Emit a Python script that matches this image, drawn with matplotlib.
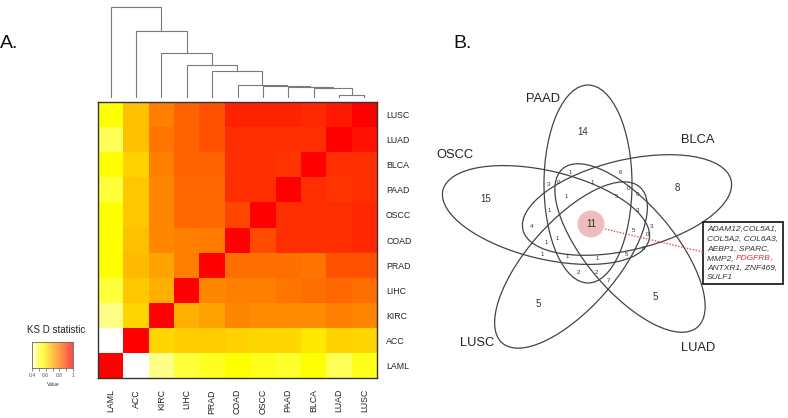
import numpy as np
import matplotlib
matplotlib.use("Agg")
import matplotlib.pyplot as plt
from matplotlib.colors import LinearSegmentedColormap
from matplotlib.patches import Ellipse, Circle, Rectangle

plt.rcParams['font.family'] = ['Liberation Sans', 'DejaVu Sans']

# ---------------- data ----------------
cancers = ["LAML", "ACC", "KIRC", "LIHC", "PRAD", "COAD", "OSCC", "PAAD", "BLCA", "LUAD", "LUSC"]

# KS D statistic, rows bottom->top, columns left->right (same order as cancers)
ks_LAML = [1.00, 0.38, 0.45, 0.50, 0.52, 0.56, 0.53, 0.51, 0.56, 0.48, 0.53]
ks_ACC  = [0.38, 1.00, 0.63, 0.65, 0.65, 0.64, 0.63, 0.63, 0.60, 0.64, 0.63]
ks_KIRC = [0.45, 0.63, 1.00, 0.70, 0.72, 0.77, 0.76, 0.76, 0.76, 0.78, 0.77]
ks_LIHC = [0.50, 0.66, 0.70, 1.00, 0.77, 0.78, 0.78, 0.80, 0.81, 0.82, 0.81]
ks_PRAD = [0.56, 0.68, 0.72, 0.78, 1.00, 0.81, 0.81, 0.81, 0.80, 0.86, 0.86]
ks_COAD = [0.56, 0.67, 0.77, 0.78, 0.79, 1.00, 0.87, 0.92, 0.92, 0.92, 0.93]
ks_OSCC = [0.56, 0.66, 0.77, 0.82, 0.82, 0.88, 1.00, 0.92, 0.92, 0.92, 0.93]
ks_PAAD = [0.50, 0.66, 0.77, 0.82, 0.82, 0.92, 0.92, 1.00, 0.92, 0.91, 0.92]
ks_BLCA = [0.56, 0.64, 0.78, 0.83, 0.83, 0.92, 0.92, 0.91, 1.00, 0.92, 0.92]
ks_LUAD = [0.48, 0.67, 0.80, 0.83, 0.86, 0.92, 0.92, 0.92, 0.92, 1.00, 0.97]
ks_LUSC = [0.56, 0.67, 0.78, 0.83, 0.86, 0.94, 0.94, 0.94, 0.93, 0.96, 1.00]

# dendrogram linkage: (cluster a, cluster b, height); ids >= 11 are merged clusters
linkage = [(9, 10, 3.3), (8, 11, 10.0), (7, 12, 11.0), (6, 13, 12.3), (5, 14, 13.3),
           (4, 15, 26.7), (3, 16, 32.7), (2, 17, 45.0), (1, 18, 66.7), (0, 19, 91.0)]

venn_sets = ["PAAD", "BLCA", "LUAD", "LUSC", "OSCC"]
region_counts = [14, 8, 5, 5, 15, 11,
                 1, 6, 3, 0, 1, 0, 0, 1, 5, 1, 3, 4, 3, 5, 0, 1, 1, 0, 5, 1, 1, 1, 2, 2, 7]
genes_lines = ["ADAM12,COL5A1,", "COL5A2, COL6A3,", "AEBP1, SPARC,",
               "MMP2, |PDGFRB|,", "ANTXR1, ZNF469,", "SULF1"]

# ---------------- figure ----------------
W, H = 788, 418
fig = plt.figure(figsize=(W / 100, H / 100), dpi=100)

def px_axes(x0, y0, x1, y1, **kw):
    return fig.add_axes([x0 / W, (H - y1) / H, (x1 - x0) / W, (y1 - y0) / H], **kw)

heat = ["#FFFFD5", "#FFFF80", "#FFFF2A", "#FFFF00", "#FFDF00", "#FFBF00",
        "#FF9F00", "#FF8000", "#FF6000", "#FF4000", "#FF2000", "#FF0000"]
cmap = LinearSegmentedColormap.from_list("heat_r", heat)
cmap.set_under("white")

M = np.array([ks_LAML, ks_ACC, ks_KIRC, ks_LIHC, ks_PRAD, ks_COAD,
              ks_OSCC, ks_PAAD, ks_BLCA, ks_LUAD, ks_LUSC])
n = len(cancers)

axh = px_axes(98, 102, 377, 378)
axh.imshow(M, cmap=cmap, vmin=0.4, vmax=1.0, origin="lower", aspect="auto",
           interpolation="nearest", extent=(-0.5, n - 0.5, -0.5, n - 0.5))
axh.set_xticks(range(n))
axh.set_xticklabels(cancers, rotation=90, fontsize=6.3, color="#222222")
axh.set_yticks(range(n))
axh.set_yticklabels(cancers, fontsize=6.3, color="#222222")
axh.yaxis.tick_right()
axh.tick_params(length=0, pad=6.5)
axh.tick_params(axis="x", pad=8)
for s in axh.spines.values():
    s.set_color("#333333")
    s.set_linewidth(1.0)

# dendrogram
axd = px_axes(98, 5, 377, 98)
axd.set_xlim(-0.5, n - 0.5)
axd.set_ylim(0, 93)
axd.axis("off")
pos = {i: float(i) for i in range(n)}
hgt = {i: 0.0 for i in range(n)}
for k, (a, b, h) in enumerate(linkage):
    xa, xb = pos[a], pos[b]
    axd.plot([xa, xa, xb, xb], [hgt[a], h, h, hgt[b]], color="#7a7a7a", lw=0.8,
             solid_joinstyle="miter")
    pos[n + k] = (xa + xb) / 2
    hgt[n + k] = h

# colour key
axk = px_axes(32, 342, 73, 368)
grad = np.linspace(0.4, 1.0, 256)[None, :]
axk.imshow(grad, cmap=cmap, vmin=0.4, vmax=1.0, aspect="auto", alpha=0.72,
           extent=(0.4, 1.0, 0, 1))
axk.set_yticks([])
ktick = [0.4, 0.5, 0.6, 0.7, 0.8, 0.9, 1.0]
axk.set_xticks(ktick)
axk.set_xticklabels(["0.4", "", "0.6", "", "0.8", "", "1"], fontsize=3.6, color="#333333")
axk.tick_params(axis="x", length=2, width=0.5, pad=1.5, colors="#555555")
for s in axk.spines.values():
    s.set_color("#666666")
    s.set_linewidth(0.6)

# overlay axes in pixel coordinates (y up)
ax = fig.add_axes([0, 0, 1, 1])
ax.set_xlim(0, W)
ax.set_ylim(0, H)
ax.axis("off")

def Y(y):
    return H - y

ax.text(0, Y(43), "A.", fontsize=14, va="center", ha="left", color="#111111")
ax.text(453, Y(43), "B.", fontsize=14, va="center", ha="left", color="#111111")
ax.text(56, Y(330), "KS D statistic", fontsize=7, ha="center", va="center", color="#222222")
ax.text(53, Y(385), "Value", fontsize=3.6, ha="center", va="center", color="#333333")

# Venn ellipses: (center x, center y, length, width, angle) in pixel coords, y up
ell_geom = [(588, Y(184), 198, 88, 90.0),
            (627, Y(205), 214, 90, 13.4),
            (630, Y(248), 208, 88, -49.7),
            (571, Y(265), 208, 88, 48.5),
            (546, Y(215), 212, 88, -13.5)]
for (cx, cy, L, Wd, ang) in ell_geom:
    ax.add_patch(Ellipse((cx, cy), L, Wd, angle=ang, fill=False,
                         edgecolor="#444444", lw=0.9))

label_pos = [(543, 99), (698, 140), (698, 348), (477, 343), (455, 155)]
for name, (x, y) in zip(venn_sets, label_pos):
    ax.text(x, Y(y), name, fontsize=9.3, ha="center", va="center", color="#222222")

# highlight circle
ax.add_patch(Circle((591, Y(224)), 13.5, facecolor="#EBBDBD", edgecolor="none"))
ax.plot([605, 703], [Y(229), Y(252)], color="#E04A4A", lw=0.9, ls=(0, (1.2, 1.2)))

count_pos = [(583, 132), (677, 188), (538, 304), (655, 297), (486, 199), (591, 224),
             (570, 173), (620, 173), (548, 184), (558, 183), (592, 182), (628, 188),
             (637, 194), (566, 197), (617, 196), (549, 211), (637, 210), (532, 226),
             (651, 226), (634, 231), (647, 234), (557, 238), (546, 242), (643, 249),
             (627, 254), (542, 254), (567, 257), (597, 258), (578, 272), (596, 272),
             (608, 281)]
for i, (c, (x, y)) in enumerate(zip(region_counts, count_pos)):
    fs = 7 if i < 6 else 4.4
    ax.text(x, Y(y), str(c), fontsize=fs, ha="center", va="center", color="#333333")

# gene box
ax.add_patch(Rectangle((703, Y(284)), 80, 62, fill=False, edgecolor="#222222", lw=1.3))
fig.canvas.draw()
renderer = fig.canvas.get_renderer()
line_y = [229, 239, 249, 258.5, 268, 277.5]
for line, y in zip(genes_lines, line_y):
    parts = line.split("|")
    x = 707
    for j, p in enumerate(parts):
        if not p:
            continue
        col = "#E03030" if j % 2 == 1 else "#333333"
        t = ax.text(x, Y(y), p, fontsize=6.0, style="italic", ha="left", va="center",
                    color=col)
        bb = t.get_window_extent(renderer=renderer)
        x += bb.width
fig.savefig("out.png", dpi=100)
